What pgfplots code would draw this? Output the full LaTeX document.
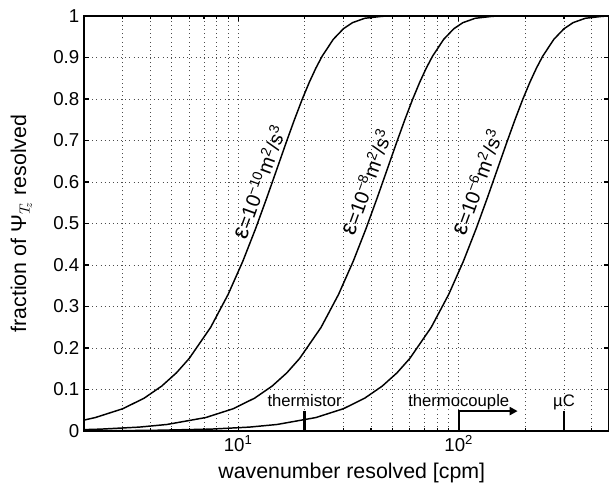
\documentclass[border=0pt]{standalone}
\usepackage{pgfplots}
\pgfplotsset{compat=1.18}
\usepackage{fontspec}
\setmainfont{Liberation Sans}
\usetikzlibrary{arrows.meta}
\begin{document}
\begin{tikzpicture}
\begin{axis}[
  scale only axis,
  width=393.75pt, height=311.25pt,
  xmode=log,
  xmin=2, xmax=480, ymin=0, ymax=1,
  xtick={10,100},
  xticklabels={10\textsuperscript{1},10\textsuperscript{2}},
  minor xtick={2,3,4,5,6,7,8,9,20,30,40,50,60,70,80,90,200,300,400},
  ytick={0,0.1,0.2,0.3,0.4,0.5,0.6,0.7,0.8,0.9,1},
  yticklabels={0,0.1,0.2,0.3,0.4,0.5,0.6,0.7,0.8,0.9,1},
  tick align=inside,
  major tick length=4pt, minor tick length=2.5pt,
  every tick/.style={black, line width=0.8pt},
  xmajorgrids, xminorgrids, ymajorgrids,
  major grid style={black!70, line width=0.6pt, dash pattern=on 0.7pt off 2.4pt},
  minor grid style={black!70, line width=0.6pt, dash pattern=on 0.7pt off 2.4pt},
  axis line style={line width=1.1pt},
  /pgf/number format/assume math mode=true,
  tick label style={font=\fontsize{14}{16}\selectfont},
  label style={font=\fontsize{16}{19}\selectfont},
  xlabel={wavenumber resolved [cpm]},
  ylabel={fraction of Ψ$_{T_{\!z}}$ resolved},
  xlabel style={at={(axis description cs:0.51,-0.115)}, anchor=base},
  ylabel style={at={(axis description cs:-0.11,0.5)}, anchor=base},
]
% eps = 1e-10
\addplot[black, line width=1.1pt] coordinates {
(2,0.0263) (2.25,0.0324) (3,0.0537) (3.75,0.0792) (4.5,0.1082) (5.25,0.1402)
(6,0.1749) (7.5,0.2496) (9,0.3289) (10.5,0.4092) (12,0.4879) (13.5,0.5628)
(15,0.6321) (16.5,0.6949) (18,0.7505) (19.5,0.7989) (21,0.8400) (22.5,0.8744)
(24,0.9028) (27,0.9439) (30,0.9693) (33,0.9840) (37.5,0.9945) (45,0.9993)
(52.5,0.9999) (60,1) (480,1)};
% eps = 1e-8
\addplot[black, line width=1.1pt] coordinates {
(2,0.0033) (2.375,0.0045) (3.5625,0.0094) (4.75,0.0157) (7.125,0.0324)
(9.5,0.0537) (11.875,0.0792) (14.25,0.1082) (16.625,0.1402) (19,0.1749)
(23.75,0.2496) (28.5,0.3289) (33.25,0.4092) (38,0.4879) (42.75,0.5628)
(47.5,0.6321) (52.25,0.6949) (57,0.7505) (61.75,0.7989) (66.5,0.8400)
(71.25,0.8744) (76,0.9028) (85.5,0.9439) (95,0.9693) (104.5,0.9840)
(118.75,0.9945) (142.5,0.9993) (166.25,0.9999) (190,1) (480,1)};
% eps = 1e-6
\addplot[black, line width=1.1pt] coordinates {
(2,0.0004) (4,0.0015) (7.5,0.0045) (11.25,0.0094) (15,0.0157) (22.5,0.0324)
(30,0.0537) (37.5,0.0792) (45,0.1082) (52.5,0.1402) (60,0.1749) (75,0.2496)
(90,0.3289) (105,0.4092) (120,0.4879) (135,0.5628) (150,0.6321) (165,0.6949)
(180,0.7505) (195,0.7989) (210,0.8400) (225,0.8744) (240,0.9028) (270,0.9439)
(300,0.9693) (330,0.9840) (375,0.9945) (450,0.9993) (480,0.9996)};
% instrument markers
\addplot[black, line width=1.8pt] coordinates {(20,0) (20,0.048)};
\addplot[black, line width=1.6pt, -{Triangle[length=6pt,width=6pt]}] coordinates {(100,0) (100,0.048) (185,0.048)};
\addplot[black, line width=1.8pt] coordinates {(300,0) (300,0.048)};
\node[anchor=base, font=\fontsize{12.5}{14}\selectfont] at (axis cs:20,0.06) {thermistor};
\node[anchor=base, font=\fontsize{12.5}{14}\selectfont] at (axis cs:100,0.06) {thermocouple};
\node[anchor=base, font=\fontsize{12.5}{14}\selectfont] at (axis cs:300,0.06) {µC};
% curve labels
\node[rotate=70, font=\fontsize{15}{17}\selectfont] at (axis cs:12.4,0.6) {{\fontsize{18}{18}\selectfont ε}=10\textsuperscript{−10}m\textsuperscript{2}/s\textsuperscript{3}};
\node[rotate=70, font=\fontsize{15}{17}\selectfont] at (axis cs:38,0.6) {{\fontsize{18}{18}\selectfont ε}=10\textsuperscript{−8}m\textsuperscript{2}/s\textsuperscript{3}};
\node[rotate=70, font=\fontsize{15}{17}\selectfont] at (axis cs:121,0.6) {{\fontsize{18}{18}\selectfont ε}=10\textsuperscript{−6}m\textsuperscript{2}/s\textsuperscript{3}};
\end{axis}
\pgfresetboundingbox
\path ([xshift=-63pt,yshift=-40.5pt]current axis.south west) rectangle ([yshift=12pt]current axis.north east);
\end{tikzpicture}
\end{document}
